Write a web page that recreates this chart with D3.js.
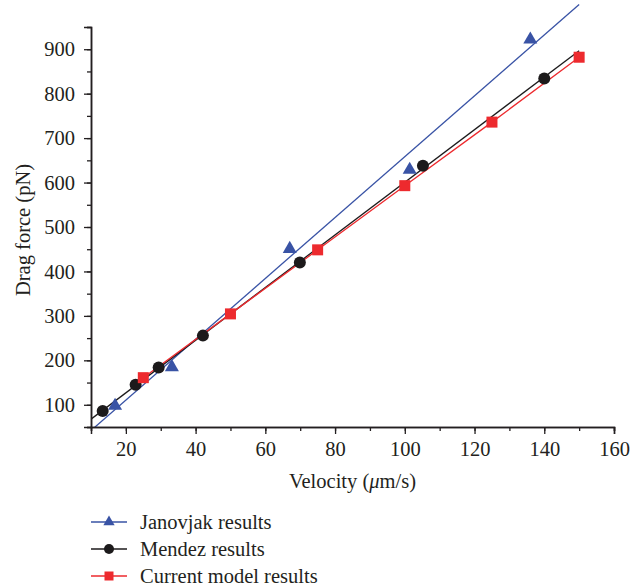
<!DOCTYPE html>
<html>
<head>
<meta charset="utf-8">
<script src="https://cdn.jsdelivr.net/npm/d3@7"></script>
<style>
  html, body { margin: 0; padding: 0; background: #fff; }
  svg text { font-family: "Liberation Serif", "DejaVu Serif", serif; fill: #231f20; }
</style>
</head>
<body>
<svg id="chart" width="644" height="586"></svg>
<script>
// Drag force versus velocity for three data sets
const janovjakVelocity = [16.9, 33.2, 67.0, 101.4, 136.0];
const janovjakForce    = [100, 187, 453, 631, 924];

const mendezVelocity = [13.35, 22.8, 29.4, 42.1, 69.9, 105.2, 140.0];
const mendezForce    = [86, 145, 184, 255.6, 420, 637.8, 834];

const modelVelocity = [25, 50, 75, 100, 125, 150];
const modelForce    = [161, 304.5, 448.6, 593, 736, 882];

const seriesNames = ["Janovjak results", "Mendez results", "Current model results"];
const xTickValues = [20, 40, 60, 80, 100, 120, 140, 160];
const yTickValues = [100, 200, 300, 400, 500, 600, 700, 800, 900];

const colors = { janovjak: "#3953a5", mendez: "#1c1a1b", model: "#ed2a2e" };
const fontSize = 20.5;

const svg = d3.select("#chart");
const plotLeft = 91, plotRight = 614, plotTop = 27, plotBottom = 427;

const x = d3.scaleLinear().domain([10, 160]).range([plotLeft, plotRight]);
const y = d3.scaleLinear().domain([50, 950]).range([plotBottom, plotTop]);

// least-squares straight line through a data set
function linearFit(xs, ys) {
  const mx = d3.mean(xs), my = d3.mean(ys);
  let sxy = 0, sxx = 0;
  xs.forEach((v, i) => { sxy += (v - mx) * (ys[i] - my); sxx += (v - mx) * (v - mx); });
  const slope = sxy / sxx;
  return { slope, intercept: my - slope * mx };
}

// fit lines are clipped at the bottom/left of the plot only
svg.append("clipPath").attr("id", "plotClip")
  .append("rect").attr("x", plotLeft).attr("y", 0).attr("width", 644 - plotLeft).attr("height", plotBottom);

const plot = svg.append("g").attr("clip-path", "url(#plotClip)");

const fitRange = [10, 150];
const lineGen = d3.line().x(d => x(d[0])).y(d => y(d[1]));

const jFit = linearFit(janovjakVelocity, janovjakForce);
const mFit = linearFit(mendezVelocity, mendezForce);

plot.append("path")
  .attr("d", lineGen(fitRange.map(v => [v, jFit.slope * v + jFit.intercept])))
  .attr("stroke", colors.janovjak).attr("stroke-width", 1.3).attr("fill", "none");

plot.append("path")
  .attr("d", lineGen(fitRange.map(v => [v, mFit.slope * v + mFit.intercept])))
  .attr("stroke", colors.mendez).attr("stroke-width", 1.3).attr("fill", "none");

plot.append("path")
  .attr("d", lineGen(modelVelocity.map((v, i) => [v, modelForce[i]])))
  .attr("stroke", colors.model).attr("stroke-width", 1.3).attr("fill", "none");

// markers
const tri = d3.symbol().type(d3.symbolTriangle);
const marks = svg.append("g");

marks.selectAll(".mendez").data(mendezVelocity).join("circle")
  .attr("cx", d => x(d)).attr("cy", (d, i) => y(mendezForce[i]))
  .attr("r", 6).attr("fill", colors.mendez);

marks.selectAll(".model").data(modelVelocity).join("rect")
  .attr("x", d => x(d) - 5.5).attr("y", (d, i) => y(modelForce[i]) - 5.5)
  .attr("width", 11).attr("height", 11).attr("fill", colors.model);

marks.selectAll(".janovjak").data(janovjakVelocity).join("path")
  .attr("transform", (d, i) => `translate(${x(d)},${y(janovjakForce[i]) + 1})`)
  .attr("d", tri.size(85)()).attr("fill", colors.janovjak);

// axes
const xAxis = svg.append("g").attr("transform", `translate(0,${plotBottom})`);
xAxis.call(d3.axisBottom(x).tickValues(d3.range(10, 161, 10)).tickSize(4).tickFormat(""));
xAxis.append("g").call(d3.axisBottom(x).tickValues(xTickValues).tickSize(7).tickFormat(d3.format("d")));

const yAxis = svg.append("g").attr("transform", `translate(${plotLeft},0)`);
yAxis.call(d3.axisLeft(y).tickValues(d3.range(50, 951, 50)).tickSize(4).tickFormat(""));
yAxis.append("g").call(d3.axisLeft(y).tickValues(yTickValues).tickSize(7).tickFormat(d3.format("d")));

// remove duplicate domain paths from the inner groups
xAxis.select("g").select(".domain").remove();
yAxis.select("g").select(".domain").remove();

svg.selectAll(".domain").attr("stroke", "#231f20").attr("stroke-width", 1.5);
svg.selectAll(".tick line").attr("stroke", "#231f20").attr("stroke-width", 1.3);
svg.selectAll(".tick text").attr("font-size", fontSize).attr("font-family", "Liberation Serif").attr("fill", "#231f20");
xAxis.selectAll(".tick text").attr("y", 10).attr("dy", "0.95em");
yAxis.selectAll(".tick text").attr("x", -16);

// axis titles
const xTitle = svg.append("text").attr("x", (plotLeft + plotRight) / 2).attr("y", 488)
  .attr("text-anchor", "middle").attr("font-size", fontSize);
xTitle.append("tspan").text("Velocity (");
xTitle.append("tspan").attr("font-style", "italic").text("μ");
xTitle.append("tspan").text("m/s)");

svg.append("text")
  .attr("transform", `translate(30,${(plotTop + plotBottom) / 2 + 3}) rotate(-90)`)
  .attr("text-anchor", "middle").attr("font-size", fontSize)
  .text("Drag force (pN)");

// legend
const legendKeys = ["janovjak", "mendez", "model"];
const legendRows = [522, 549, 576];
const legend = svg.append("g");
legendKeys.forEach((key, i) => {
  const g = legend.append("g").attr("transform", `translate(0,${legendRows[i]})`);
  g.append("line").attr("x1", 91).attr("x2", 127).attr("y1", 0).attr("y2", 0)
    .attr("stroke", colors[key]).attr("stroke-width", 1.3);
  if (key === "janovjak") {
    g.append("path").attr("transform", "translate(109,0)").attr("d", tri.size(55)()).attr("fill", colors[key]);
  } else if (key === "mendez") {
    g.append("circle").attr("cx", 109).attr("cy", 0).attr("r", 5).attr("fill", colors[key]);
  } else {
    g.append("rect").attr("x", 104.5).attr("y", -4.5).attr("width", 9).attr("height", 9).attr("fill", colors[key]);
  }
  g.append("text").attr("x", 140).attr("y", 0).attr("dy", "0.33em")
    .attr("font-size", fontSize).text(seriesNames[i]);
});
</script>
</body>
</html>
